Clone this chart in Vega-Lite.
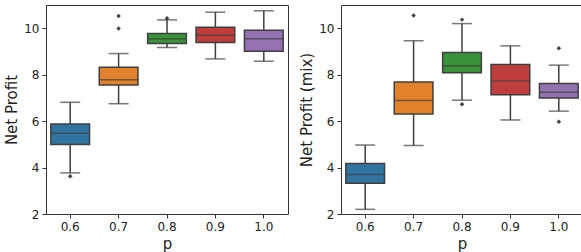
{
  "$schema": "https://vega.github.io/schema/vega-lite/v6.json",
  "padding": {"left": 4, "top": 4, "right": 5, "bottom": 2},
  "autosize": {"type": "pad"},
  "spacing": 10,
  "config": {
    "font": "DejaVu Sans",
    "view": {"stroke": "#333333", "strokeWidth": 1},
    "axis": {"labelFont": "DejaVu Sans", "titleFont": "DejaVu Sans", "labelFontSize": 12, "titleFontSize": 15, "titleFontWeight": "normal", "labelColor": "#222", "titleColor": "#222", "tickColor": "#333", "domain": false, "grid": false, "tickSize": 4, "labelPadding": 3}
  },
  "datasets": {
    "stats": [
      {"panel": "A", "p": "0.6", "lower": 3.77, "q1": 4.99, "median": 5.48, "q3": 5.88, "upper": 6.81},
      {"panel": "A", "p": "0.7", "lower": 6.75, "q1": 7.55, "median": 7.78, "q3": 8.32, "upper": 8.91},
      {"panel": "A", "p": "0.8", "lower": 9.17, "q1": 9.34, "median": 9.55, "q3": 9.77, "upper": 10.36},
      {"panel": "A", "p": "0.9", "lower": 8.68, "q1": 9.38, "median": 9.7, "q3": 10.04, "upper": 10.69},
      {"panel": "A", "p": "1.0", "lower": 8.58, "q1": 9.01, "median": 9.55, "q3": 9.91, "upper": 10.75},
      {"panel": "B", "p": "0.6", "lower": 2.2, "q1": 3.32, "median": 3.7, "q3": 4.18, "upper": 4.97},
      {"panel": "B", "p": "0.7", "lower": 4.95, "q1": 6.31, "median": 6.89, "q3": 7.68, "upper": 9.46},
      {"panel": "B", "p": "0.8", "lower": 6.9, "q1": 8.08, "median": 8.38, "q3": 8.95, "upper": 10.2},
      {"panel": "B", "p": "0.9", "lower": 6.05, "q1": 7.14, "median": 7.73, "q3": 8.44, "upper": 9.24},
      {"panel": "B", "p": "1.0", "lower": 6.43, "q1": 7.0, "median": 7.24, "q3": 7.62, "upper": 8.41}
    ],
    "outliers": [
      {"panel": "A", "p": "0.6", "value": 3.63},
      {"panel": "A", "p": "0.7", "value": 10.53},
      {"panel": "A", "p": "0.7", "value": 9.99},
      {"panel": "A", "p": "0.8", "value": 10.43},
      {"panel": "B", "p": "0.7", "value": 10.55},
      {"panel": "B", "p": "0.8", "value": 10.37},
      {"panel": "B", "p": "0.8", "value": 6.73},
      {"panel": "B", "p": "1.0", "value": 9.14},
      {"panel": "B", "p": "1.0", "value": 5.97}
    ]
  },
  "hconcat": [
    {
      "width": 242, "height": 209,
      "encoding": {
        "x": {"field": "p", "type": "nominal", "sort": ["0.6", "0.7", "0.8", "0.9", "1.0"], "scale": {"paddingInner": 0, "paddingOuter": 0}, "axis": {"title": "p", "labelAngle": 0}}
      },
      "layer": [
        {"data": {"name": "stats"}, "transform": [{"filter": "datum.panel === 'A'"}], "mark": {"type": "rule", "color": "#3f3f3f", "strokeWidth": 1.5},
         "encoding": {"y": {"field": "lower", "type": "quantitative", "scale": {"domain": [2, 11], "nice": false}, "axis": {"title": "Net Profit", "values": [2, 4, 6, 8, 10]}}, "y2": {"field": "upper"}}},
        {"data": {"name": "stats"}, "transform": [{"filter": "datum.panel === 'A'"}], "mark": {"type": "bar", "width": {"band": 0.8}, "stroke": "#3f3f3f", "strokeWidth": 1.5, "opacity": 1},
         "encoding": {"y": {"field": "q1", "type": "quantitative"}, "y2": {"field": "q3"}, "color": {"field": "p", "type": "nominal", "scale": {"domain": ["0.6", "0.7", "0.8", "0.9", "1.0"], "range": ["#3274a1", "#e1812c", "#3a923a", "#c03d3e", "#9372b2"]}, "legend": null}}},
        {"data": {"name": "stats"}, "transform": [{"filter": "datum.panel === 'A'"}], "mark": {"type": "tick", "color": "#3f3f3f", "size": 38.5, "thickness": 1.5},
         "encoding": {"y": {"field": "median", "type": "quantitative"}}},
        {"data": {"name": "stats"}, "transform": [{"filter": "datum.panel === 'A'"}], "mark": {"type": "tick", "color": "#3f3f3f", "size": 20, "thickness": 1.5},
         "encoding": {"y": {"field": "lower", "type": "quantitative"}}},
        {"data": {"name": "stats"}, "transform": [{"filter": "datum.panel === 'A'"}], "mark": {"type": "tick", "color": "#3f3f3f", "size": 20, "thickness": 1.5},
         "encoding": {"y": {"field": "upper", "type": "quantitative"}}},
        {"data": {"name": "outliers"}, "transform": [{"filter": "datum.panel === 'A'"}], "mark": {"type": "point", "shape": "diamond", "filled": true, "color": "#3f3f3f", "size": 20, "opacity": 1},
         "encoding": {"y": {"field": "value", "type": "quantitative"}}}
      ]
    },
    {
      "width": 242, "height": 209,
      "encoding": {
        "x": {"field": "p", "type": "nominal", "sort": ["0.6", "0.7", "0.8", "0.9", "1.0"], "scale": {"paddingInner": 0, "paddingOuter": 0}, "axis": {"title": "p", "labelAngle": 0}}
      },
      "layer": [
        {"data": {"name": "stats"}, "transform": [{"filter": "datum.panel === 'B'"}], "mark": {"type": "rule", "color": "#3f3f3f", "strokeWidth": 1.5},
         "encoding": {"y": {"field": "lower", "type": "quantitative", "scale": {"domain": [2, 11], "nice": false}, "axis": {"title": "Net Profit (mix)", "values": [2, 4, 6, 8, 10]}}, "y2": {"field": "upper"}}},
        {"data": {"name": "stats"}, "transform": [{"filter": "datum.panel === 'B'"}], "mark": {"type": "bar", "width": {"band": 0.8}, "stroke": "#3f3f3f", "strokeWidth": 1.5, "opacity": 1},
         "encoding": {"y": {"field": "q1", "type": "quantitative"}, "y2": {"field": "q3"}, "color": {"field": "p", "type": "nominal", "scale": {"domain": ["0.6", "0.7", "0.8", "0.9", "1.0"], "range": ["#3274a1", "#e1812c", "#3a923a", "#c03d3e", "#9372b2"]}, "legend": null}}},
        {"data": {"name": "stats"}, "transform": [{"filter": "datum.panel === 'B'"}], "mark": {"type": "tick", "color": "#3f3f3f", "size": 38.5, "thickness": 1.5},
         "encoding": {"y": {"field": "median", "type": "quantitative"}}},
        {"data": {"name": "stats"}, "transform": [{"filter": "datum.panel === 'B'"}], "mark": {"type": "tick", "color": "#3f3f3f", "size": 20, "thickness": 1.5},
         "encoding": {"y": {"field": "lower", "type": "quantitative"}}},
        {"data": {"name": "stats"}, "transform": [{"filter": "datum.panel === 'B'"}], "mark": {"type": "tick", "color": "#3f3f3f", "size": 20, "thickness": 1.5},
         "encoding": {"y": {"field": "upper", "type": "quantitative"}}},
        {"data": {"name": "outliers"}, "transform": [{"filter": "datum.panel === 'B'"}], "mark": {"type": "point", "shape": "diamond", "filled": true, "color": "#3f3f3f", "size": 20, "opacity": 1},
         "encoding": {"y": {"field": "value", "type": "quantitative"}}}
      ]
    }
  ]
}
